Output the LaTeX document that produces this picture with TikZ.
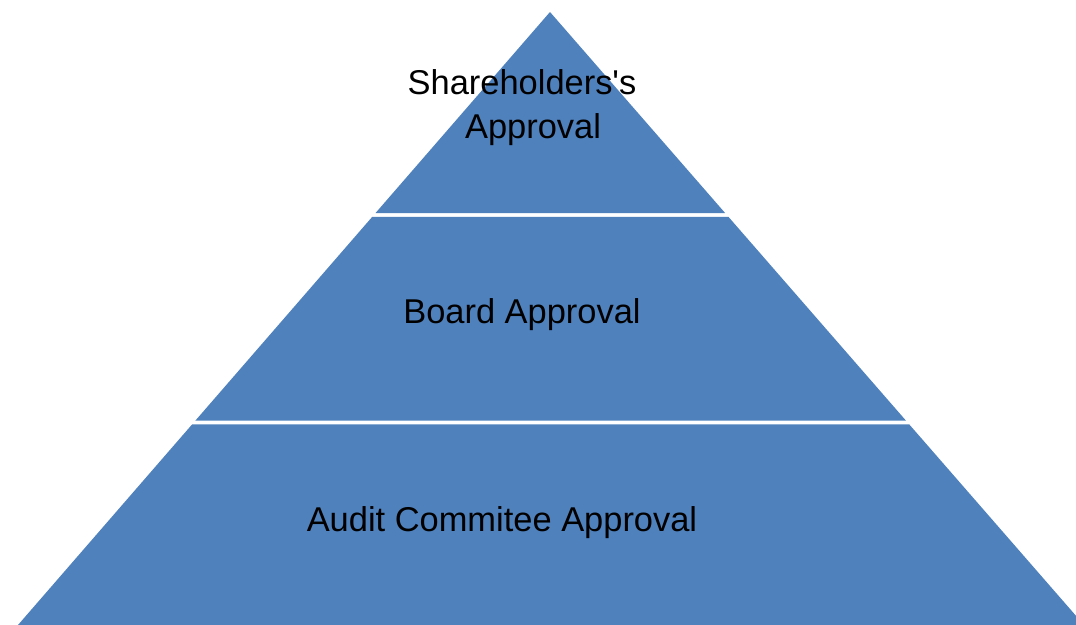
\documentclass[tikz,border=0pt]{standalone}
\usepackage{fontspec}
\setmainfont{Liberation Sans}
\usepackage{xcolor}
\usepackage{tikz}
\usetikzlibrary{calc}
\definecolor{TierBlue}{RGB}{79,129,189}

\begin{document}
\begin{tikzpicture}[x=0.02cm,y=-0.02cm,
  tier style/.style={
    fill=TierBlue,
    draw=none,
  },
  label style/.style={
    text=black,
    anchor=base,
    inner sep=0pt,
    font=\fontsize{19.6}{23}\selectfont,
  }
]
\useasboundingbox (0,0) rectangle (1076,625);

\coordinate (apex) at (550,12);
\coordinate (bl) at (18,625);
\coordinate (br) at (1084,625);

% top tier
\fill[tier style] (apex) -- ($(apex)!0.3279!(br)$) -- ($(apex)!0.3279!(bl)$) -- cycle;
% middle tier
\fill[tier style] ($(apex)!0.3344!(bl)$) -- ($(apex)!0.3344!(br)$)
  -- ($(apex)!0.6664!(br)$) -- ($(apex)!0.6664!(bl)$) -- cycle;
% bottom tier
\fill[tier style] ($(apex)!0.6729!(bl)$) -- ($(apex)!0.6729!(br)$)
  -- (br) -- (bl) -- cycle;

\node[label style] (share) at (522,95) {Shareholders\textquotesingle s};
\node[label style] (approval) at (533,138.3) {Approval};
\node[label style] (board) at (522,323.3) {Board Approval};
\node[label style] (audit) at (502,531.7) {Audit Commitee Approval};

\end{tikzpicture}
\end{document}
